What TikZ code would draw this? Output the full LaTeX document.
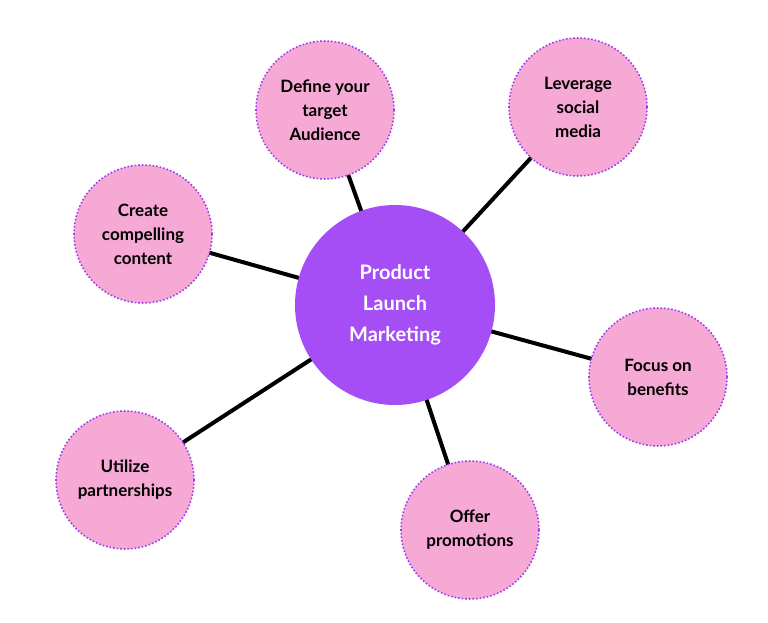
\documentclass[tikz,border=0pt]{standalone}
\usepackage{fontspec}
\setmainfont{Lato}
\usetikzlibrary{backgrounds}
\definecolor{petal}{HTML}{F5A9D4}
\definecolor{rim}{HTML}{9D3BF0}
\definecolor{core}{HTML}{A54EF5}
\tikzset{
  idea/.style={circle, draw=rim, dotted, line width=1.6pt, fill=petal, minimum size=138pt, inner sep=0pt, align=center, font=\fontsize{17}{24}\selectfont\bfseries},
  link/.style={line width=4pt, black}
}
\begin{document}
\begin{tikzpicture}[x=1pt, y=-1pt]
\useasboundingbox (0,0) rectangle (768,623);

\node at (395,305)[circle, fill=core, minimum size=200pt, align=center, text=white, font=\fontsize{20}{31}\selectfont\bfseries] (hub) {Product\\Launch\\Marketing};

\node at (325,110)[idea] (audience) {Define your\\target\\Audience};
\node at (578,107)[idea] (social) {Leverage\\social\\media};
\node at (143,234)[idea] (content) {Create\\compelling\\content};
\node at (658,377)[idea] (benefits) {Focus on\\benefits};
\node at (125,480)[idea] (partners) {Utilize\\partnerships};
\node at (470,530)[idea] (promos) {Offer\\promotions};

\begin{scope}[on background layer]
\foreach \n in {audience, social, content, benefits, partners, promos}
  \draw[link] (hub.center) -- (\n.center);
\end{scope}

\end{tikzpicture}
\end{document}
